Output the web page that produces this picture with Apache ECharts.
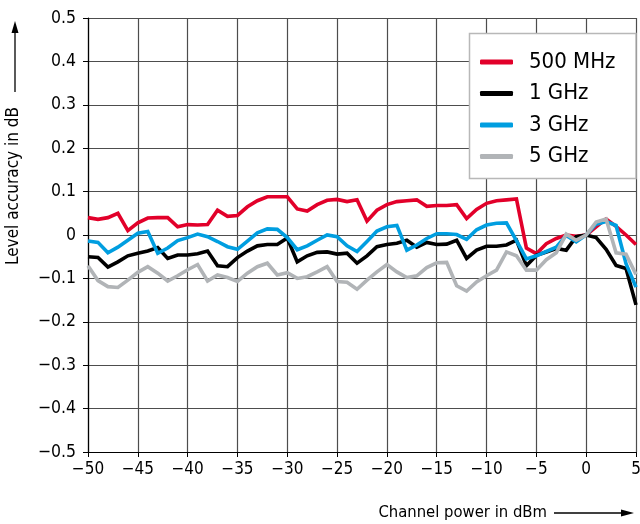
<!DOCTYPE html>
<html>
<head>
<meta charset="utf-8">
<script src="https://cdn.jsdelivr.net/npm/echarts@6/dist/echarts.min.js"></script>
<style>
html,body{margin:0;padding:0;background:#fff;overflow:hidden;}
#chart{width:640px;height:524px;}
</style>
</head>
<body>
<div id="chart"></div>
<script>
const powerDbm = [-50,-49,-48,-47,-46,-45,-44,-43,-42,-41,-40,-39,-38,-37,-36,-35,-34,-33,-32,-31,-30,-29,-28,-27,-26,-25,-24,-23,-22,-21,-20,-19,-18,-17,-16,-15,-14,-13,-12,-11,-10,-9,-8,-7,-6,-5,-4,-3,-2,-1,0,1,2,3,4,5];

const mhz500 = [0.04,0.036,0.04,0.05,0.01,0.028,0.039,0.04,0.04,0.019,0.024,0.023,0.024,0.057,0.043,0.045,0.065,0.079,0.088,0.088,0.088,0.06,0.055,0.07,0.08,0.082,0.077,0.081,0.032,0.057,0.07,0.077,0.079,0.081,0.066,0.068,0.068,0.07,0.038,0.059,0.073,0.079,0.081,0.083,-0.03,-0.043,-0.02,-0.008,0.0,-0.003,0,0.019,0.037,0.02,0.0,-0.022];

const ghz1 = [-0.05,-0.052,-0.074,-0.062,-0.048,-0.042,-0.037,-0.029,-0.054,-0.046,-0.046,-0.043,-0.037,-0.071,-0.073,-0.052,-0.037,-0.025,-0.022,-0.022,-0.007,-0.062,-0.048,-0.04,-0.039,-0.044,-0.042,-0.065,-0.048,-0.027,-0.022,-0.019,-0.012,-0.028,-0.017,-0.022,-0.021,-0.012,-0.054,-0.035,-0.026,-0.026,-0.023,-0.012,-0.071,-0.047,-0.039,-0.031,-0.035,-0.004,0,-0.006,-0.033,-0.07,-0.077,-0.161];

const ghz3 = [-0.014,-0.017,-0.041,-0.028,-0.012,0.004,0.008,-0.042,-0.03,-0.013,-0.006,0.002,-0.004,-0.015,-0.027,-0.033,-0.014,0.005,0.014,0.013,-0.006,-0.034,-0.025,-0.012,0.0,-0.004,-0.025,-0.038,-0.015,0.009,0.019,0.022,-0.035,-0.023,-0.008,0.003,0.003,0.001,-0.01,0.012,0.023,0.027,0.028,-0.013,-0.055,-0.048,-0.038,-0.028,-0.001,-0.016,0,0.025,0.031,0.022,-0.066,-0.12];

const ghz5 = [-0.071,-0.105,-0.119,-0.121,-0.104,-0.086,-0.073,-0.088,-0.106,-0.094,-0.08,-0.068,-0.106,-0.092,-0.098,-0.107,-0.088,-0.073,-0.065,-0.092,-0.087,-0.1,-0.096,-0.085,-0.073,-0.107,-0.109,-0.125,-0.104,-0.085,-0.068,-0.085,-0.098,-0.094,-0.075,-0.064,-0.063,-0.117,-0.129,-0.108,-0.094,-0.081,-0.039,-0.048,-0.081,-0.081,-0.057,-0.041,0.002,-0.012,0,0.03,0.037,-0.041,-0.044,-0.091];

const seriesNames = ['500 MHz','1 GHz','3 GHz','5 GHz'];
const xTicks = [-50,-45,-40,-35,-30,-25,-20,-15,-10,-5,0,5];
const xTickLabels = ['−50','−45','−40','−35','−30','−25','−20','−15','−10','−5','0','5'];
const yTicks = [-0.5,-0.4,-0.3,-0.2,-0.1,0,0.1,0.2,0.3,0.4,0.5];
const yTickLabels = ['−0.5','−0.4','−0.3','−0.2','−0.1','0','0.1','0.2','0.3','0.4','0.5'];
const xTitle = 'Channel power in dBm';
const yTitle = 'Level accuracy in dB';

const FONT = '"Liberation Sans Narrow","DejaVu Sans Condensed","Liberation Sans",sans-serif';
const colors = ['#e2002a','#000000','#009ee0','#b1b4b7'];
const seriesData = [mhz500, ghz1, ghz3, ghz5];

function lookup(ticks, labels, v){
  for (let i=0;i<ticks.length;i++){ if (Math.abs(ticks[i]-v)<1e-9) return labels[i]; }
  return '';
}

const chart = echarts.init(document.getElementById('chart'), null, {renderer:'canvas'});
chart.setOption({
  animation:false,
  backgroundColor:'#fff',
  grid:{left:88,right:4,top:18,bottom:72,containLabel:false,outerBoundsMode:'none'},
  xAxis:{
    type:'value',min:-50,max:5,interval:5,
    axisLine:{show:true,onZero:false,lineStyle:{color:'#000',width:1.2}},
    axisTick:{show:true,length:5,lineStyle:{color:'#000',width:1}},
    splitLine:{show:true,lineStyle:{color:'#4d4d4d',width:1.2}},
    axisLabel:{margin:9,color:'#000',fontFamily:FONT,fontSize:17,hideOverlap:false,formatter:v=>lookup(xTicks,xTickLabels,v)}
  },
  yAxis:{
    type:'value',min:-0.5,max:0.5,interval:0.1,
    axisLine:{show:true,onZero:false,lineStyle:{color:'#000',width:1.2}},
    axisTick:{show:true,length:5,lineStyle:{color:'#000',width:1}},
    splitLine:{show:true,lineStyle:{color:'#4d4d4d',width:1.2}},
    axisLabel:{margin:12,color:'#000',fontFamily:FONT,fontSize:17.5,formatter:v=>lookup(yTicks,yTickLabels,v)}
  },
  legend:{
    orient:'vertical',left:480,top:50,padding:0,itemGap:7.5,
    itemWidth:33,itemHeight:5,icon:'roundRect',z:10,
    data:seriesNames,
    textStyle:{fontFamily:FONT,fontSize:22,color:'#000',lineHeight:24,padding:[0,0,0,11]}
  },
  graphic:[
    {type:'rect',z:5,shape:{x:469.5,y:33.5,width:166.5,height:145},style:{fill:'#fff',stroke:'#b8b8b8',lineWidth:1.5}},
    {type:'text',z:10,x:14,y:186,rotation:Math.PI/2,style:{text:yTitle,font:'17px '+FONT,fill:'#000',textAlign:'center',textVerticalAlign:'middle'}},
    {type:'line',z:10,shape:{x1:15,y1:92,x2:15,y2:30},style:{stroke:'#000',lineWidth:1.3}},
    {type:'polygon',z:10,shape:{points:[[15,21],[11.5,33],[18.5,33]]},style:{fill:'#000'}},
    {type:'text',z:10,x:547,y:513,style:{text:xTitle,font:'16.5px '+FONT,fill:'#000',textAlign:'right',textVerticalAlign:'middle'}},
    {type:'line',z:10,shape:{x1:554,y1:513,x2:624,y2:513},style:{stroke:'#000',lineWidth:1.3}},
    {type:'polygon',z:10,shape:{points:[[634,513],[621,509.5],[621,516.5]]},style:{fill:'#000'}}
  ],
  series: seriesNames.map((n,i)=>({
    name:n,type:'line',showSymbol:false,symbol:'none',z:2+i,
    data: powerDbm.map((x,j)=>[x, seriesData[i][j]]),
    lineStyle:{color:colors[i],width:3.6,join:'miter'},
    itemStyle:{color:colors[i]}
  }))
});
</script>
</body>
</html>
